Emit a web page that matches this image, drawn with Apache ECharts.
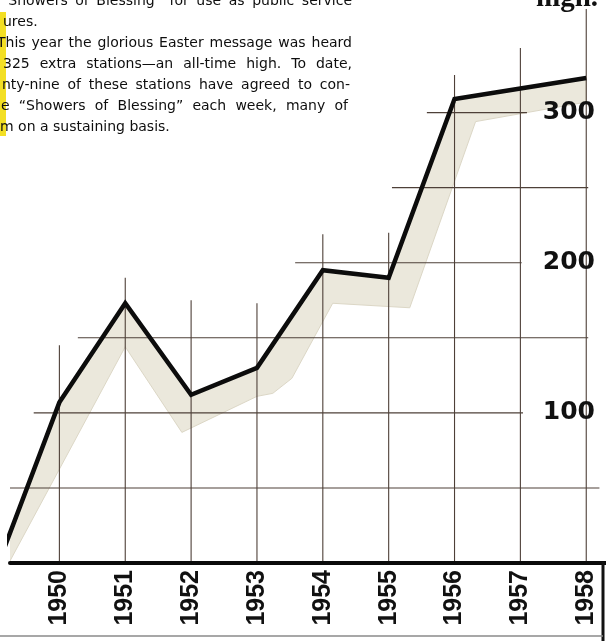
<!DOCTYPE html>
<html><head><meta charset="utf-8">
<script src="https://cdn.jsdelivr.net/npm/echarts@6/dist/echarts.min.js"></script>
<style>html,body{margin:0;padding:0;background:#fff}#c{width:606px;height:641px}</style>
</head><body><div id="c"></div>
<script>
// ---- data ----
const years = [1949, 1950, 1951, 1952, 1953, 1954, 1955, 1956, 1957, 1958];
const stations = [-9, 107, 173, 112, 130, 195, 190, 309, 316, 323];
const labelYears = [1950, 1951, 1952, 1953, 1954, 1955, 1956, 1957, 1958];
const yTickLabels = [100, 200, 300];
// lower edge of the shaded ribbon under the line
const bandLowerYears = [1949, 1951.0, 1951.86, 1953.0, 1953.24, 1953.53, 1954.15, 1955.32, 1956.32, 1958.0];
const bandLowerValues = [-19, 144, 87, 111, 113, 123, 173, 170, 294, 307];
// hand-drawn guide lines: vertical guide tops per labelled year, horizontal guide spans
const guideTops = [145, 190, 175, 173, 219, 220, 325, 343, 369];
const guideLevels = [50, 100, 150, 200, 250, 300];
const guideStarts = [1949.25, 1949.61, 1950.28, 1953.58, 1955.05, 1955.58];
const guideEnds = [1958.2, 1957.04, 1958.03, 1957.02, 1958.03, 1957.1];
// text of the page
const bodyLines = [
  '\u201CShowers of Blessing\u201D for use as public service',
  'ures.',
  'This year the glorious Easter message was heard',
  '325 extra stations\u2014an all-time high. To date,',
  'nty-nine of these stations have agreed to con-',
  'e \u201CShowers of Blessing\u201D each week, many of',
  'm on a sustaining basis.'
];
const headWord = 'high.';

// ---- layout (styling only) ----
const lineLayout = [
  {x0: 1, x1: 352, y: 1, j: true},
  {x0: 3, x1: 0, y: 22, j: false},
  {x0: -3, x1: 352, y: 43, j: true},
  {x0: 3, x1: 352, y: 64, j: true},
  {x0: 2, x1: 350, y: 85, j: true},
  {x0: 1, x1: 348, y: 106, j: true},
  {x0: 0, x1: 0, y: 127, j: false}
];
const bodyFont = "14px 'DejaVu Sans', sans-serif";
const ctx = document.createElement('canvas').getContext('2d');
function lineEls(str, L) {
  ctx.font = bodyFont;
  if (!L.j) return [{type: 'text', x: L.x0, y: L.y, z: 20,
    style: {text: str, font: bodyFont, fill: '#0e0e0e', verticalAlign: 'middle'}}];
  const words = str.split(' ');
  const w = words.map(s => ctx.measureText(s).width);
  const total = w.reduce((a, b) => a + b, 0);
  const gap = (L.x1 - L.x0 - total) / (words.length - 1);
  let x = L.x0; const out = [];
  words.forEach((s, i) => {
    out.push({type: 'text', x: x, y: L.y, z: 20,
      style: {text: s, font: bodyFont, fill: '#0e0e0e', verticalAlign: 'middle'}});
    x += w[i] + gap;
  });
  return out;
}
let graphics = [
  {type: 'rect', shape: {x: 0, y: 12, width: 6, height: 124}, style: {fill: '#f3df24'}, z: 10}
];
bodyLines.forEach((s, i) => { graphics = graphics.concat(lineEls(s, lineLayout[i])); });
graphics.push({type: 'text', x: 536, y: 13, z: 20,
  style: {text: headWord, font: "bold 29px 'Liberation Serif', 'DejaVu Serif', serif", fill: '#111', verticalAlign: 'bottom'}});
graphics.push({type: 'line', shape: {x1: 603, y1: 562, x2: 603, y2: 641}, style: {stroke: '#111', lineWidth: 3}, z: 20});
graphics.push({type: 'line', shape: {x1: 0, y1: 636, x2: 603, y2: 636}, style: {stroke: '#8a8a8a', lineWidth: 1.5}, z: 20});

const linePts = years.map((y, i) => [y, stations[i]]);
const lowerPts = bandLowerYears.map((y, i) => [y, bandLowerValues[i]]);
const guideColor = '#4e4038';

const chart = echarts.init(document.getElementById('c'), null, {renderer: 'canvas'});
chart.setOption({
  animation: false,
  backgroundColor: '#ffffff',
  grid: {left: 10, right: 0, top: 0, bottom: 78},
  xAxis: {
    type: 'value', min: 1949.25, max: 1958.3, z: 10,
    axisLine: {show: true, lineStyle: {color: '#0a0a0a', width: 4}},
    axisTick: {show: false}, splitLine: {show: false},
    axisLabel: {
      customValues: labelYears, rotate: 90, margin: 7,
      formatter: v => String(v),
      fontFamily: "'Liberation Sans', Arial, sans-serif", fontWeight: 'bold', fontSize: 25, color: '#111'
    }
  },
  yAxis: {
    type: 'value', min: 0, max: 375, interval: 50, position: 'right', z: 10,
    axisLine: {show: false}, axisTick: {show: false}, splitLine: {show: false},
    axisLabel: {
      inside: true, margin: 11,
      formatter: v => (yTickLabels.indexOf(v) >= 0 ? String(v) : ''),
      fontFamily: "'DejaVu Sans', sans-serif", fontWeight: 'bold', fontSize: 25, color: '#111'
    }
  },
  graphic: graphics,
  series: [
    {
      type: 'custom', z: 1, clip: true, silent: true,
      data: [[1950, 0]],
      renderItem: function (params, api) {
        const up = linePts.map(p => api.coord(p));
        const lo = lowerPts.slice().reverse().map(p => api.coord(p));
        return {type: 'polygon', shape: {points: up.concat(lo)},
          style: {fill: '#ebe8dc', stroke: '#dcd7c6', lineWidth: 1}};
      }
    },
    {
      type: 'custom', z: 2, clip: true, silent: true,
      data: labelYears.map((y, i) => [y, guideTops[i]]),
      renderItem: function (params, api) {
        const a = api.coord([api.value(0), 0]);
        const b = api.coord([api.value(0), api.value(1)]);
        return {type: 'line', shape: {x1: a[0], y1: a[1], x2: b[0], y2: b[1]},
          style: {stroke: guideColor, lineWidth: 1.1}};
      }
    },
    {
      type: 'custom', z: 2, clip: true, silent: true,
      data: guideLevels.map((lv, i) => [guideStarts[i], lv, guideEnds[i]]),
      renderItem: function (params, api) {
        const a = api.coord([api.value(0), api.value(1)]);
        const b = api.coord([api.value(2), api.value(1)]);
        return {type: 'line', shape: {x1: a[0], y1: a[1], x2: b[0], y2: b[1]},
          style: {stroke: guideColor, lineWidth: 1.1}};
      }
    },
    {
      type: 'line', z: 5, clip: true, silent: true,
      data: linePts, symbol: 'none',
      lineStyle: {color: '#0c0c0c', width: 4.5, join: 'miter'}
    }
  ]
});
</script></body></html>
